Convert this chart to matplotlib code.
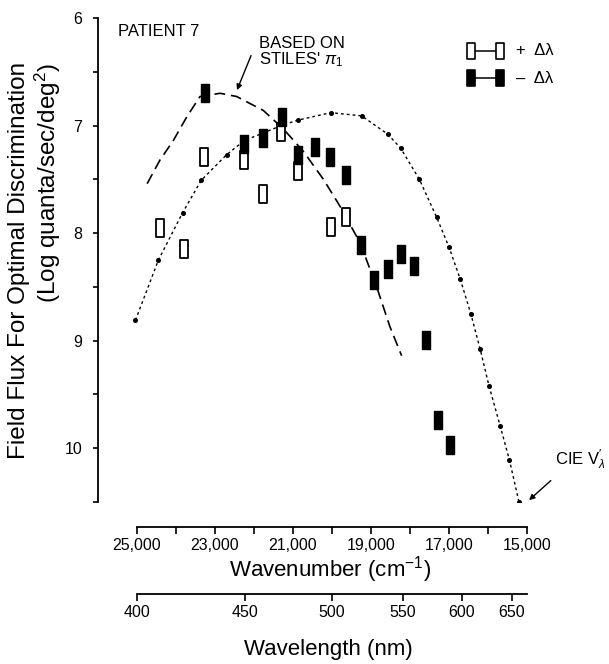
import matplotlib
matplotlib.use("Agg")
import matplotlib.pyplot as plt
from matplotlib.path import Path
from matplotlib.ticker import MultipleLocator

plt.rcParams['font.family'] = ['Liberation Sans', 'DejaVu Sans']
plt.rcParams['mathtext.fontset'] = 'custom'
plt.rcParams['mathtext.rm'] = 'Liberation Sans'
plt.rcParams['mathtext.it'] = 'Liberation Sans:italic'

# +delta-lambda (open) and -delta-lambda (filled) measurements
PLUS_WN = [24400, 23800, 23290, 22250, 21780, 21310, 20870, 20030, 19640]
PLUS_LOG = [7.95, 8.15, 7.29, 7.32, 7.64, 7.06, 7.42, 7.94, 7.85]
MINUS_WN = [23260, 22250, 21780, 21290, 20860, 20430, 20045, 19645, 19250,
            18920, 18560, 18240, 17890, 17590, 17280, 16975]
MINUS_LOG = [6.70, 7.17, 7.12, 6.92, 7.27, 7.20, 7.29, 7.46, 8.11,
             8.44, 8.33, 8.19, 8.31, 8.99, 9.74, 9.97]

# Stiles pi_1 prediction (dashed)
STILES_WN = [24740, 24410, 24070, 23725, 23385, 22870, 22445, 21760, 21250,
             20735, 20220, 19795, 19280, 18855, 18515, 18215]
STILES_LOG = [7.54, 7.32, 7.14, 6.92, 6.73, 6.70, 6.73, 6.86, 7.03,
              7.24, 7.50, 7.75, 8.09, 8.50, 8.87, 9.14]

# CIE V'lambda (dotted, with dots)
CIE_WN = [25040, 24450, 23830, 23355, 22700, 22250, 21770, 21300, 20880, 20030,
          19240, 18570, 18240, 17760, 17320, 17000, 16710, 16440, 16200,
          15975, 15690, 15450, 15205]
CIE_LOG = [8.81, 8.25, 7.81, 7.51, 7.27, 7.14, 7.07, 7.00, 6.95, 6.88,
           6.91, 7.08, 7.21, 7.50, 7.85, 8.13, 8.43, 8.75, 9.08,
           9.42, 9.79, 10.11, 10.50]
CIE_DOTS = [0, 1, 2, 3, 4, 8, 9, 10, 11, 12, 13, 14, 15, 16, 17, 18, 19, 20, 21, 22]

WN_LABELS = [25000, 23000, 21000, 19000, 17000, 15000]
WN_MINOR = [24000, 22000, 20000, 18000, 16000]
NM_LABELS = [400, 450, 500, 550, 600, 650]

bar = Path([(-0.5, -1), (0.5, -1), (0.5, 1), (-0.5, 1), (-0.5, -1)],
           [Path.MOVETO, Path.LINETO, Path.LINETO, Path.LINETO, Path.CLOSEPOLY])

W, H = 609, 664
fig = plt.figure(figsize=(W / 100, H / 100), dpi=100)
left, right = 98 / W, 527 / W
ax = fig.add_axes([left, 1 - 502 / H, right - left, (502 - 18) / H])

ax.plot(STILES_WN, STILES_LOG, color='k', lw=1.2, linestyle=(0, (6.5, 3.5)))
ax.plot(CIE_WN, CIE_LOG, color='k', lw=1.0, linestyle=(0, (2, 2.2)),
        marker='o', markersize=2.6, markevery=CIE_DOTS)
ax.plot(PLUS_WN, PLUS_LOG, linestyle='none', marker=bar, markersize=12.5,
        markerfacecolor='white', markeredgecolor='k', markeredgewidth=1.3)
ax.plot(MINUS_WN, MINUS_LOG, linestyle='none', marker=bar, markersize=12.5,
        markerfacecolor='k', markeredgecolor='k', markeredgewidth=1.0)

ax.set_xlim(26000, 15000)
ax.set_ylim(10.5, 6)
for s in ['top', 'right', 'bottom']:
    ax.spines[s].set_visible(False)
ax.spines['left'].set_linewidth(1.3)
ax.set_xticks([])
ax.yaxis.set_major_locator(MultipleLocator(1))
ax.yaxis.set_minor_locator(MultipleLocator(0.5))
ax.tick_params(axis='y', which='both', direction='out', length=3.5, width=1.2,
               labelsize=11.5, pad=8)

ax.text(0.047, 0.988, 'PATIENT 7', transform=ax.transAxes, fontsize=12,
        va='top', ha='left')

ax.annotate("BASED ON\nSTILES' $\\pi_1$", xy=(22436, 6.67), xytext=(21870, 6.32),
            fontsize=12, ha='left', va='center', linespacing=0.95,
            arrowprops=dict(arrowstyle='-|>', color='k', lw=1.0,
                            mutation_scale=8, shrinkA=10, shrinkB=0,
                            relpos=(0.0, 1.0)))
ax.annotate("CIE $\\mathregular{V}_\\lambda'$", xy=(15000, 10.5), xytext=(14282, 10.11),
            fontsize=12, ha='left', va='center', annotation_clip=False,
            arrowprops=dict(arrowstyle='-|>', color='k', lw=1.0,
                            mutation_scale=8, shrinkA=6, shrinkB=2,
                            relpos=(0.1, 0.0)))

# hand-built legend
for yy, face, lab in [(0.932, 'white', '+  Δλ'), (0.876, 'k', '–  Δλ')]:
    ax.plot([0.8706, 0.9359], [yy, yy], transform=ax.transAxes, color='k', lw=1.1,
            marker=bar, markersize=12, markerfacecolor=face, markeredgecolor='k',
            markeredgewidth=1.2, clip_on=False)
    ax.text(0.975, yy, lab, transform=ax.transAxes, fontsize=12, va='center',
            ha='left')

# wavenumber scale
ax2 = fig.add_axes([left, 1 - 527 / H, right - left, 0.0001])
ax2.set_xlim(26000, 15000)
ax2.set_yticks([])
for s in ['top', 'right', 'left']:
    ax2.spines[s].set_visible(False)
ax2.spines['bottom'].set_bounds(25000, 15000)
ax2.spines['bottom'].set_linewidth(1.3)
ax2.set_xticks(WN_LABELS, [f'{v:,}' for v in WN_LABELS])
ax2.set_xticks(WN_MINOR, minor=True)
ax2.tick_params(axis='x', which='both', direction='out', length=5, width=1.2,
                labelsize=11.5, pad=3)
ax2.patch.set_visible(False)

# wavelength scale
ax3 = fig.add_axes([left, 1 - 594 / H, right - left, 0.0001])
ax3.set_xlim(26000, 15000)
ax3.set_yticks([])
for s in ['top', 'right', 'left']:
    ax3.spines[s].set_visible(False)
ax3.spines['bottom'].set_bounds(25000, 15000)
ax3.spines['bottom'].set_linewidth(1.3)
ax3.set_xticks([1e7 / w for w in NM_LABELS], [str(w) for w in NM_LABELS])
ax3.tick_params(axis='x', direction='out', length=5, width=1.2,
                labelsize=11.5, pad=3)
ax3.patch.set_visible(False)

fig.text(330 / W, 1 - 570 / H, 'Wavenumber (cm$^{-1}$)', fontsize=16,
         ha='center', va='center')
fig.text(328 / W, 1 - 650 / H, 'Wavelength (nm)', fontsize=16,
         ha='center', va='center')
fig.text(19 / W, 1 - 260 / H, 'Field Flux For Optimal Discrimination',
         fontsize=17.5, rotation=90, ha='center', va='center')
fig.text(48 / W, 1 - 183 / H, '(Log quanta/sec/deg$^2$)',
         fontsize=17.5, rotation=90, ha='center', va='center')

fig.savefig('out.png', dpi=100)
